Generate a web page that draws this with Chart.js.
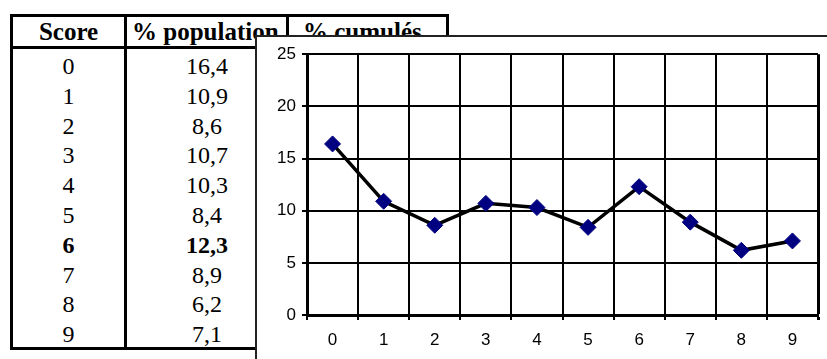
<!DOCTYPE html>
<html>
<head>
<meta charset="utf-8">
<script src="https://cdn.jsdelivr.net/npm/chart.js@4"></script>
<style>
  body { margin: 0; width: 827px; height: 359px; background: #fff; overflow: hidden; position: relative; }
  .ln { position: absolute; background: #000; }
  .cell { position: absolute; font-family: "Liberation Serif", "Times New Roman", serif; color: #000; white-space: nowrap; }
  .hd { font-size: 25px; font-weight: bold; top: 16px; height: 32px; line-height: 32px; }
  .bd { font-size: 24px; text-align: center; height: 30px; line-height: 30px; }
  #frame { position: absolute; left: 255px; top: 35px; width: 600px; height: 340px; background: #fff;
           border-left: 2px solid #222; border-top: 2px solid #222; z-index: 2; }
  #chart { position: absolute; left: 0; top: 1px; }
</style>
</head>
<body>
<div id="table"></div>
<div id="frame"><canvas id="chart" width="570" height="322"></canvas></div>
<script>
// Score distribution table and chart
const scores = ['0', '1', '2', '3', '4', '5', '6', '7', '8', '9'];
const populationPct = [16.4, 10.9, 8.6, 10.7, 10.3, 8.4, 12.3, 8.9, 6.2, 7.1];
const headers = ['Score', '% population', '% cumulés'];
const boldRow = 6;
const yTicks = [0, 5, 10, 15, 20, 25];

// Build the table behind the chart
function buildTable() {
  const t = document.getElementById('table');
  let html = '';
  // borders
  html += '<div class="ln" style="left:10px;top:14px;width:438px;height:3px"></div>';
  html += '<div class="ln" style="left:10px;top:46px;width:438px;height:3px"></div>';
  html += '<div class="ln" style="left:10px;top:347px;width:245px;height:3px"></div>';
  html += '<div class="ln" style="left:10px;top:14px;width:3px;height:336px"></div>';
  html += '<div class="ln" style="left:124px;top:14px;width:3px;height:336px"></div>';
  html += '<div class="ln" style="left:286px;top:14px;width:3px;height:336px"></div>';
  html += '<div class="ln" style="left:446px;top:14px;width:3px;height:40px"></div>';
  // header
  html += `<div class="cell hd" style="left:12px;width:113px;text-align:center">${headers[0]}</div>`;
  html += `<div class="cell hd" style="left:132px">${headers[1]}</div>`;
  html += `<div class="cell hd" style="left:303px">${headers[2]}</div>`;
  // rows
  scores.forEach((s, i) => {
    const top = 51 + i * 29.8;
    const fw = i === boldRow ? 'bold' : 'normal';
    const val = populationPct[i].toFixed(1).replace('.', ',');
    html += `<div class="cell bd" style="left:12px;width:113px;top:${top}px;font-weight:${fw}">${s}</div>`;
    html += `<div class="cell bd" style="left:127px;width:160px;top:${top}px;font-weight:${fw}">${val}</div>`;
  });
  t.innerHTML = html;
}
buildTable();

const ctx = document.getElementById('chart').getContext('2d');
new Chart(ctx, {
  type: 'line',
  data: {
    labels: scores,
    datasets: [{
      data: populationPct,
      borderColor: '#000',
      borderWidth: 3.5,
      tension: 0,
      pointStyle: 'rectRot',
      pointRadius: 8,
      pointHoverRadius: 8,
      pointBackgroundColor: '#000080',
      pointBorderColor: '#000080',
      pointBorderWidth: 1
    }]
  },
  options: {
    responsive: false,
    animation: false,
    layout: { padding: { top: 14, right: 6, left: 0, bottom: 0 } },
    plugins: { legend: { display: false }, tooltip: { enabled: false } },
    scales: {
      x: {
        offset: true,
        afterFit: (s) => { s.height = 45; },
        grid: {
          offset: true,
          color: '#000',
          lineWidth: (c) => c.type === 'tick' ? 2 : 3,
          tickLength: 5,
          tickColor: '#000'
        },
        border: { color: '#000', width: 3 },
        ticks: { color: '#000', padding: 10, font: { family: 'Liberation Sans', size: 17 } }
      },
      y: {
        min: 0,
        max: 25,
        afterFit: (s) => { s.width = 50; },
        afterBuildTicks: (s) => { s.ticks = yTicks.map(v => ({ value: v })); },
        grid: { color: '#000', lineWidth: 2, tickLength: 5, tickColor: '#000' },
        border: { color: '#000', width: 3 },
        ticks: { color: '#000', padding: 6, font: { family: 'Liberation Sans', size: 17 } }
      }
    }
  }
});
</script>
</body>
</html>
